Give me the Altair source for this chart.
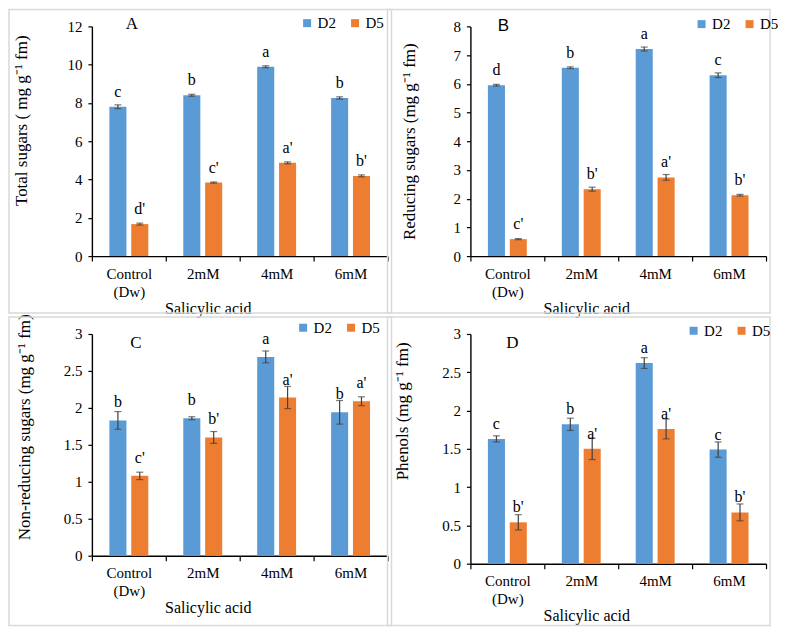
import altair as alt
import pandas as pd

# ---------------- data ----------------
categories = ["Control (Dw)", "2mM", "4mM", "6mM"]
series = ["D2", "D5"]

# Panel A: total sugars
a_d2 = [7.80, 8.40, 9.89, 8.26]
a_d2_err = [0.10, 0.05, 0.05, 0.06]
a_d5 = [1.67, 3.84, 4.87, 4.19]
a_d5_err = [0.05, 0.03, 0.05, 0.05]
a_d2_letters = ["c", "b", "a", "b"]
a_d5_letters = ["d'", "c'", "a'", "b'"]

# Panel B: reducing sugars
b_d2 = [5.95, 6.56, 7.21, 6.30]
b_d2_err = [0.03, 0.03, 0.07, 0.08]
b_d5 = [0.59, 2.33, 2.74, 2.12]
b_d5_err = [0.02, 0.07, 0.10, 0.03]
b_d2_letters = ["d", "b", "a", "c"]
b_d5_letters = ["c'", "b'", "a'", "b'"]

# Panel C: non-reducing sugars
c_d2 = [1.83, 1.86, 2.69, 1.94]
c_d2_err = [0.12, 0.02, 0.08, 0.16]
c_d5 = [1.08, 1.60, 2.14, 2.09]
c_d5_err = [0.05, 0.08, 0.15, 0.06]
c_d2_letters = ["b", "b", "a", "b"]
c_d5_letters = ["c'", "b'", "a'", "a'"]

# Panel D: phenols
d_d2 = [1.63, 1.82, 2.62, 1.49]
d_d2_err = [0.04, 0.08, 0.07, 0.10]
d_d5 = [0.54, 1.50, 1.76, 0.67]
d_d5_err = [0.10, 0.14, 0.13, 0.11]
d_d2_letters = ["c", "b", "a", "c"]
d_d5_letters = ["b'", "a'", "a'", "b'"]

x_title = "Salicylic acid"

# ---------------- style ----------------
BLUE = "#5B9BD5"
ORANGE = "#ED7D31"
ERR = "#404040"
BORDER = "#D9D9D9"
SERIF = "Liberation Serif"
SANS = "Liberation Sans"
W = 296


def make_df(d2, d2e, d5, d5e, l2, l5):
    rows = []
    for i, c in enumerate(categories):
        rows.append(dict(cat=c, series="D2", value=d2[i], err=d2e[i], label=l2[i]))
        rows.append(dict(cat=c, series="D5", value=d5[i], err=d5e[i], label=l5[i]))
    df = pd.DataFrame(rows)
    df["lo"] = df["value"] - df["err"]
    df["hi"] = df["value"] + df["err"]
    return df


def panel(df, h, ymax, ystep, ytitle, letter, letter_font, letter_pos,
          ytitle_pos, legend_pos, label_dy, border_bottom):
    yvals = []
    v = 0.0
    while v <= ymax + 1e-9:
        yvals.append(round(v, 2))
        v += ystep
    yscale = alt.Scale(domain=[0, ymax], nice=False, zero=True)
    xscale = alt.Scale(paddingInner=0, paddingOuter=0)
    oscale = alt.Scale(paddingInner=0.22, paddingOuter=0.8)

    xaxis = alt.Axis(
        title=x_title, labelAngle=0, tickBand="extent", tickSize=5,
        labelPadding=5, labelLineHeight=18,
        labelFont=SERIF, labelFontSize=15, labelColor="black",
        labelExpr="datum.value == 'Control (Dw)' ? ['Control', '(Dw)'] : datum.value",
        titleFont=SERIF, titleFontSize=16, titleFontWeight="normal", titleColor="black",
        titleX=W / 2 - 32, titleY=52, titleBaseline="middle", titleAlign="center",
    )
    yaxis = alt.Axis(
        title=ytitle, values=yvals, format="~g", tickSize=4, labelPadding=6,
        labelFont=SERIF, labelFontSize=15, labelColor="black",
        titleFont=SERIF, titleFontSize=17, titleFontWeight="normal", titleColor="black",
        titleX=ytitle_pos[0], titleY=ytitle_pos[1], titleBaseline="middle",
        titleAlign="center", titleAngle=-90,
    )

    x_enc = alt.X("cat:N", sort=categories, scale=xscale, axis=xaxis)
    off = alt.XOffset("series:N", sort=series, scale=oscale)

    def yq(field):
        return alt.Y(f"{field}:Q", scale=yscale, axis=yaxis)

    bars = alt.Chart(df).mark_bar().encode(
        x=x_enc,
        xOffset=off,
        y=yq("value"),
        color=alt.Color(
            "series:N",
            scale=alt.Scale(domain=series, range=[BLUE, ORANGE]),
            legend=alt.Legend(
                title=None, orient="none", direction="horizontal",
                legendX=legend_pos[0], legendY=legend_pos[1],
                symbolType="square", symbolSize=64, symbolStrokeWidth=0,
                labelFont=SERIF, labelFontSize=15, labelColor="black",
                columnPadding=11, labelOffset=3,
            ),
        ),
    )
    rules = alt.Chart(df).mark_rule(color=ERR, strokeWidth=1.2).encode(
        x=x_enc, xOffset=off, y=yq("lo"), y2="hi:Q",
    )
    cap_lo = alt.Chart(df).mark_tick(color=ERR, thickness=1.2, size=7).encode(
        x=x_enc, xOffset=off, y=yq("lo"),
    )
    cap_hi = alt.Chart(df).mark_tick(color=ERR, thickness=1.2, size=7).encode(
        x=x_enc, xOffset=off, y=yq("hi"),
    )
    labels = alt.Chart(df).mark_text(
        baseline="bottom", dy=-label_dy, font=SERIF, fontSize=16, color="black"
    ).encode(
        x=x_enc, xOffset=off, y=yq("value"), text="label:N",
    )
    one = alt.Data(values=[{"k": 1}])
    border = alt.Chart(one).mark_rect(
        filled=False, stroke=BORDER, strokeWidth=1.5
    ).encode(
        x=alt.value(-83), x2=alt.value(W + 4),
        y=alt.value(-17), y2=alt.value(h + border_bottom),
    )
    tag = alt.Chart(one).mark_text(
        font=letter_font, fontSize=17, color="black", baseline="middle", align="center"
    ).encode(
        x=alt.value(letter_pos[0]), y=alt.value(letter_pos[1]), text=alt.value(letter),
    )
    return alt.layer(bars, rules, cap_lo, cap_hi, labels, tag, border).properties(
        width=W, height=h
    )


pA = panel(make_df(a_d2, a_d2_err, a_d5, a_d5_err, a_d2_letters, a_d5_letters),
           230, 12, 2, "Total sugars ( mg g\u207b\u00b9 fm)", "A", SERIF, (40, -2),
           (-70, 94), (208, -11), 7, 57)
pB = panel(make_df(b_d2, b_d2_err, b_d5, b_d5_err, b_d2_letters, b_d5_letters),
           230, 8, 1, "Reducing sugars (mg g\u207b\u00b9 fm)", "B", SANS, (33, 0),
           (-61, 115), (224, -10), 7, 57)
pC = panel(make_df(c_d2, c_d2_err, c_d5, c_d5_err, c_d2_letters, c_d5_letters),
           222, 3, 0.5, "Non-reducing sugars (mg g\u207b\u00b9 fm)", "C", SERIF, (44, 9),
           (-67, 93), (204, -14), 10, 70)
pD = panel(make_df(d_d2, d_d2_err, d_d5, d_d5_err, d_d2_letters, d_d5_letters),
           230, 3, 0.5, "Phenols (mg g\u207b\u00b9 fm)", "D", SERIF, (42, 9),
           (-68, 77), (216, -11), 7, 62)

chart = alt.concat(
    pA, pB, pC, pD, columns=2, spacing={"row": 78, "column": 83}, bounds="flush"
).resolve_scale(
    color="independent"
).configure(
    padding=0, background="white"
).configure_view(
    stroke=None
).configure_axis(
    grid=False, domainColor="black", domainWidth=1.4, tickColor="black", tickWidth=1.2,
    labelFont=SERIF, labelFontSize=15, labelColor="black",
    titleFont=SERIF, titleFontSize=15, titleColor="black", titleFontWeight="normal",
).configure_legend(
    labelFont=SERIF, labelFontSize=15, labelColor="black"
).configure_bar(
    binSpacing=0
)

chart.save("out.html", embed_options={"renderer": "svg", "actions": False})
